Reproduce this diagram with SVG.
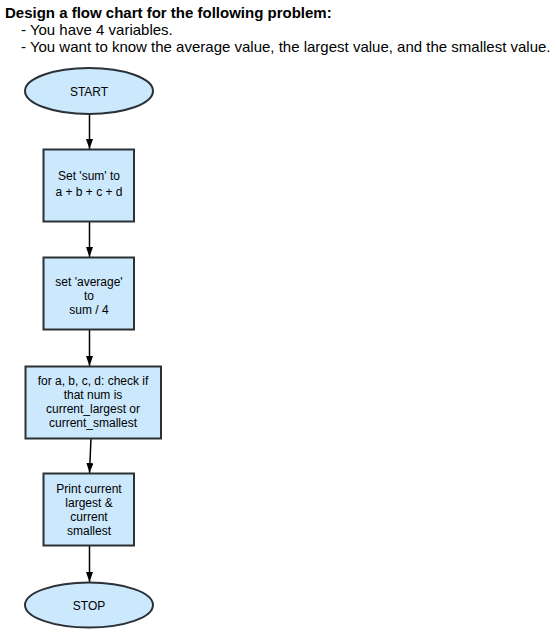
<svg xmlns="http://www.w3.org/2000/svg" width="556" height="637" viewBox="0 0 556 637">
<defs>
<style>
.hdr{font-family:"Liberation Sans",Arial,sans-serif;font-size:15px;fill:#000}
.b{font-weight:bold}
.node{fill:#cce8fc;stroke:#2b3136;stroke-width:2}
.lbl{font-family:"Liberation Sans",Arial,sans-serif;font-size:12px;fill:#000;text-anchor:middle}
.edge{stroke:#000;stroke-width:1.5;fill:none;marker-end:url(#ah)}
</style>
<marker id="ah" viewBox="0 0 10 10" refX="10" refY="5" markerWidth="10" markerHeight="7" preserveAspectRatio="none" markerUnits="userSpaceOnUse" orient="auto">
<path d="M0,0 L10,5 L0,10 z" fill="#000"/>
</marker>
</defs>
<rect width="556" height="637" fill="#fff"/>
<g id="header">
<text class="hdr b" x="5" y="18">Design a flow chart for the following problem:</text>
<text class="hdr" x="21" y="35">- You have 4 variables.</text>
<text class="hdr" x="21" y="52">- You want to know the average value, the largest value, and the smallest value.</text>
</g>
<g id="connectors">
<line class="edge" x1="89.5" y1="114" x2="89.5" y2="149"/>
<line class="edge" x1="89.5" y1="222" x2="89.5" y2="257"/>
<line class="edge" x1="89.5" y1="330" x2="89.5" y2="366"/>
<line class="edge" x1="91" y1="438" x2="89.5" y2="473"/>
<line class="edge" x1="89.5" y1="546" x2="89.5" y2="582"/>
</g>
<g id="start">
<ellipse class="node" cx="89" cy="91" rx="64" ry="23"/>
<text class="lbl" x="89" y="95.5">START</text>
</g>
<g id="sum">
<rect class="node" x="43.5" y="149.5" width="90.5" height="72"/>
<text class="lbl" x="89" y="180">Set 'sum' to</text>
<text class="lbl" x="89" y="196">a + b + c + d</text>
</g>
<g id="average">
<rect class="node" x="43.5" y="257.5" width="90.5" height="72"/>
<text class="lbl" x="89" y="286">set 'average'</text>
<text class="lbl" x="89" y="300">to</text>
<text class="lbl" x="89" y="314">sum / 4</text>
</g>
<g id="check">
<rect class="node" x="25.5" y="366.5" width="135.5" height="72"/>
<text class="lbl" x="93" y="385">for a, b, c, d: check if</text>
<text class="lbl" x="93" y="399">that num is</text>
<text class="lbl" x="93" y="413">current_largest or</text>
<text class="lbl" x="93" y="427">current_smallest</text>
</g>
<g id="print">
<rect class="node" x="43.5" y="473.5" width="90.5" height="72"/>
<text class="lbl" x="89" y="493">Print current</text>
<text class="lbl" x="89" y="507">largest &amp;</text>
<text class="lbl" x="89" y="521">current</text>
<text class="lbl" x="89" y="535">smallest</text>
</g>
<g id="stop">
<ellipse class="node" cx="89" cy="605" rx="64" ry="22.5"/>
<text class="lbl" x="89" y="609.5">STOP</text>
</g>
</svg>
